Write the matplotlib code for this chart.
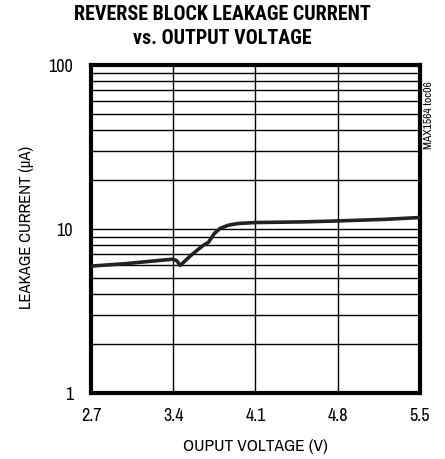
import matplotlib
matplotlib.use("Agg")
import matplotlib.pyplot as plt
from matplotlib.ticker import LogLocator, NullFormatter, FixedLocator

voltage = [2.7, 3.0, 3.2, 3.4, 3.43, 3.46, 3.55, 3.65, 3.70, 3.75, 3.80, 3.87, 3.95, 4.1, 4.5, 4.8, 5.2, 5.5]
current = [5.94, 6.15, 6.35, 6.55, 6.4, 6.0, 6.9, 7.9, 8.3, 9.4, 10.1, 10.55, 10.8, 10.95, 11.05, 11.2, 11.45, 11.75]
xticks = [2.7, 3.4, 4.1, 4.8, 5.5]
xticklabels = ["2.7", "3.4", "4.1", "4.8", "5.5"]
yticks = [1, 10, 100]
yticklabels = ["1", "10", "100"]

narrow = ["Archivo Narrow", "DejaVu Sans"]
title_font = ["Roboto Condensed", "DejaVu Sans"]

W, H = 445, 460
fig = plt.figure(figsize=(W/100, H/100), dpi=100)
L, R, T, B = 91, 420, 66, 394
ax = fig.add_axes([L/W, 1 - B/H, (R-L)/W, (B-T)/H])
ax.set_yscale("log")
ax.set_xlim(2.7, 5.5)
ax.set_ylim(1, 100)

ax.plot(voltage, current, color="#222222", lw=2.6, solid_joinstyle="round", zorder=3)

ax.xaxis.set_major_locator(FixedLocator(xticks))
ax.set_xticklabels(xticklabels, family=narrow, fontsize=13)
ax.yaxis.set_major_locator(FixedLocator(yticks))
ax.set_yticklabels(yticklabels, family=narrow, fontsize=13)
ax.yaxis.set_minor_locator(LogLocator(base=10, subs=range(2, 10)))
ax.yaxis.set_minor_formatter(NullFormatter())
ax.tick_params(axis="y", which="both", length=0, pad=13)
ax.tick_params(axis="x", which="both", length=0, pad=10)
ax.grid(True, which="major", color="black", lw=1.0)
ax.grid(True, which="minor", axis="y", color="black", lw=1.0)
for s in ax.spines.values():
    s.set_linewidth(3)

ax.set_xlabel("OUPUT VOLTAGE (V)", family=narrow, fontsize=12.5)
ax.set_ylabel("LEAKAGE CURRENT (μA)", family=narrow, fontsize=12)
ax.xaxis.set_label_coords(((L+R)/2 - L)/(R-L), (B - 447)/(B-T))
ax.yaxis.set_label_coords((27 - L)/(R-L), 0.5 + ((T+B)/2 - 227)/(B-T))
ax.xaxis.label.set_va("center")
ax.yaxis.label.set_va("center")

fig.text(0.5, 1 - 15/H, "REVERSE BLOCK LEAKAGE CURRENT", ha="center", va="center",
         family=title_font, fontweight=900, fontsize=14.4)
fig.text(0.5, 1 - 38/H, "vs. OUTPUT VOLTAGE", ha="center", va="center",
         family=title_font, fontweight=900, fontsize=14.4)
fig.text(429/W, 1 - 115/H, "MAX1564 toc06", rotation=90, ha="center", va="center",
         family=narrow, fontsize=8.3)

fig.savefig("out.png", dpi=100, facecolor="white")
